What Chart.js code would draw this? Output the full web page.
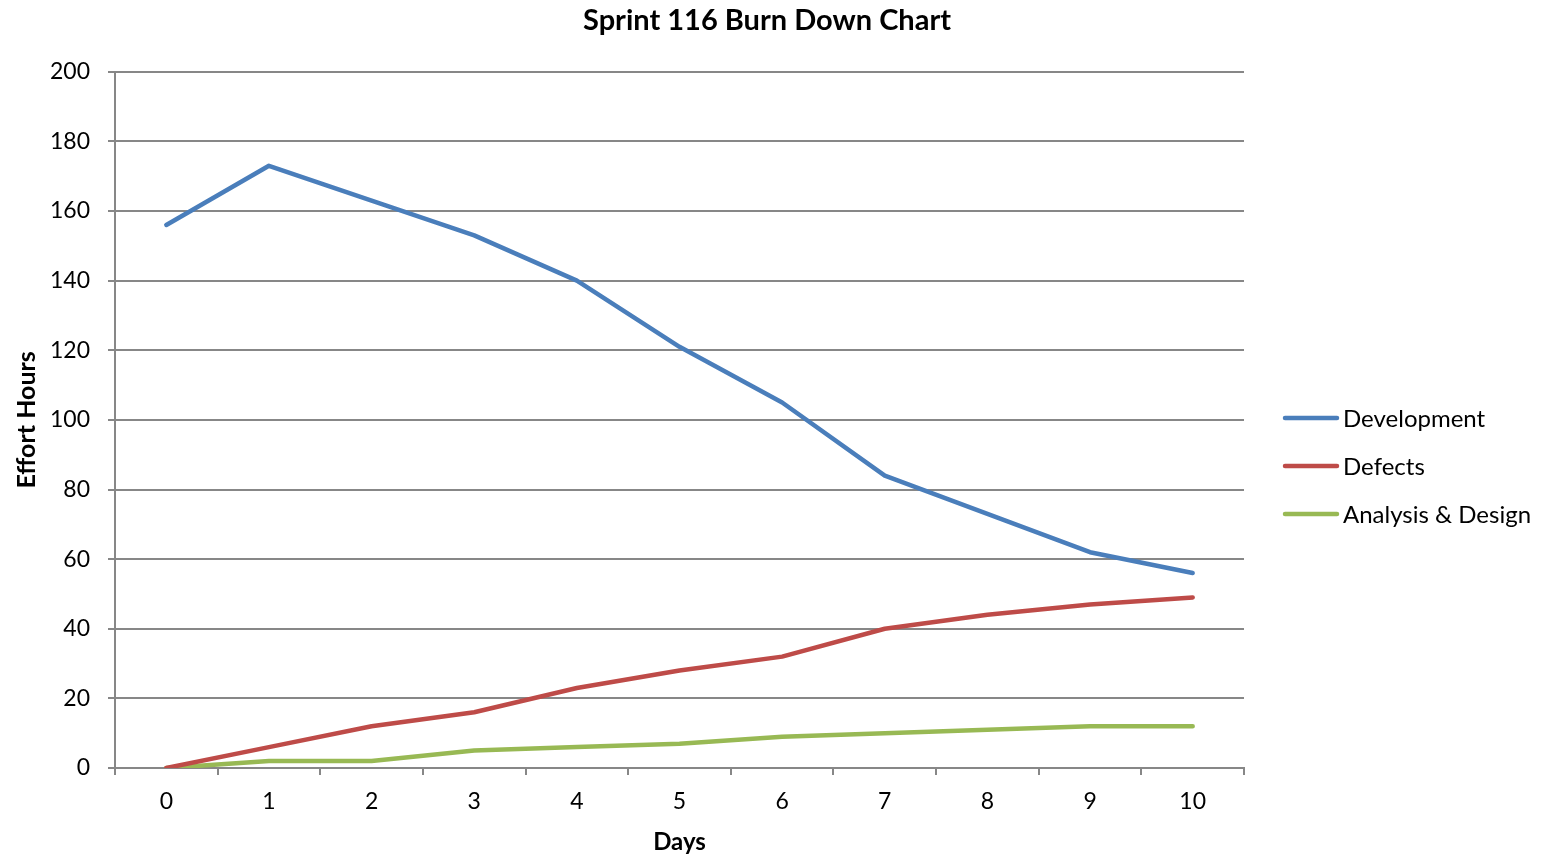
<!DOCTYPE html>
<html>
<head>
<meta charset="utf-8">
<title>Sprint 116 Burn Down Chart</title>
<script src="https://cdn.jsdelivr.net/npm/chart.js@4/dist/chart.umd.min.js"></script>
<style>
  html, body { margin: 0; padding: 0; background: #fff; }
  canvas { display: block; }
</style>
</head>
<body>
<canvas id="burndown" width="1548" height="857"></canvas>
<script>
// chart data
var days = ['0', '1', '2', '3', '4', '5', '6', '7', '8', '9', '10'];
var development = [156, 173, 163, 153, 140, 121, 105, 84, 73, 62, 56];
var defects = [0, 6, 12, 16, 23, 28, 32, 40, 44, 47, 49];
var analysisDesign = [0, 2, 2, 5, 6, 7, 9, 10, 11, 12, 12];
var yTicks = [0, 20, 40, 60, 80, 100, 120, 140, 160, 180, 200];

var gridColor = '#878787';
var fontName = 'Lato, "Open Sans", sans-serif';

// legend on the right, drawn as line samples like the original
var lineLegend = {
    id: 'lineLegend',
    afterDraw: function(chart) {
        var ctx = chart.ctx;
        var x = chart.chartArea.right + 41;
        ctx.save();
        ctx.font = '24px ' + fontName;
        ctx.textBaseline = 'middle';
        chart.data.datasets.forEach(function(ds, i) {
            var y = 418 + i * 48;
            ctx.strokeStyle = ds.borderColor;
            ctx.lineWidth = ds.borderWidth;
            ctx.lineCap = 'round';
            ctx.beginPath();
            ctx.moveTo(x, y);
            ctx.lineTo(x + 52, y);
            ctx.stroke();
            ctx.fillStyle = '#000';
            ctx.fillText(ds.label, x + 58, y + 1);
        });
        ctx.restore();
    }
};

function line(label, values, color) {
    return {
        label: label,
        data: values,
        borderColor: color,
        backgroundColor: color,
        borderWidth: 4.5,
        borderCapStyle: 'round',
        borderJoinStyle: 'round',
        pointRadius: 0,
        tension: 0,
        fill: false
    };
}

var chart = new Chart(document.getElementById('burndown'), {
    type: 'line',
    data: {
        labels: days,
        datasets: [
            line('Development', development, '#4a7ebb'),
            line('Defects', defects, '#be4b48'),
            line('Analysis & Design', analysisDesign, '#98b954')
        ]
    },
    options: {
        responsive: false,
        animation: false,
        devicePixelRatio: 1,
        layout: { padding: { left: 0, right: 14, top: 0, bottom: 0 } },
        plugins: {
            legend: { display: false },
            tooltip: { enabled: false },
            title: {
                display: true,
                text: 'Sprint 116 Burn Down Chart',
                color: '#000',
                font: { family: fontName, size: 29, weight: 'bold', lineHeight: 1.2 },
                padding: { top: 3, bottom: 34 }
            }
        },
        scales: {
            x: {
                offset: true,
                grid: {
                    offset: true,
                    drawOnChartArea: false,
                    drawTicks: true,
                    tickLength: 7,
                    color: gridColor,
                    lineWidth: 2
                },
                border: { display: true, color: gridColor, width: 2 },
                ticks: {
                    color: '#000',
                    padding: 13,
                    maxRotation: 0,
                    font: { family: fontName, size: 23 }
                },
                title: {
                    display: true,
                    text: 'Days',
                    color: '#000',
                    font: { family: fontName, size: 24, weight: 'bold', lineHeight: 1.2 },
                    padding: { top: 10, bottom: 0 }
                },
                afterFit: function(scale) { scale.height = 89; }
            },
            y: {
                min: 0,
                max: 200,
                afterBuildTicks: function(scale) {
                    scale.ticks = yTicks.map(function(v) { return { value: v }; });
                },
                grid: {
                    color: gridColor,
                    lineWidth: 2,
                    drawTicks: true,
                    tickLength: 7
                },
                border: { display: true, color: gridColor, width: 2 },
                ticks: {
                    color: '#000',
                    padding: 18,
                    font: { family: fontName, size: 23 }
                },
                title: {
                    display: true,
                    text: 'Effort Hours',
                    color: '#000',
                    font: { family: fontName, size: 25, weight: 'bold', lineHeight: 1.2 },
                    padding: { top: 12, bottom: 0 }
                },
                afterFit: function(scale) { scale.width = 115; }
            },
            legendSpace: {
                type: 'linear',
                position: 'right',
                display: true,
                grid: { display: false, drawTicks: false },
                border: { display: false },
                ticks: { display: false },
                afterFit: function(scale) { scale.width = 290; }
            }
        }
    },
    plugins: [lineLegend]
});
</script>
</body>
</html>
